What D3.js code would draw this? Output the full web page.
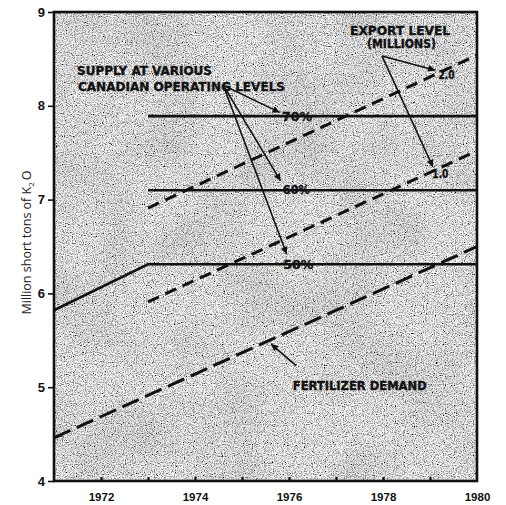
<!DOCTYPE html>
<html>
<head>
<meta charset="utf-8">
<script src="https://cdn.jsdelivr.net/npm/d3@7/dist/d3.min.js"></script>
<style>
  html, body { margin: 0; padding: 0; background: #fff; }
  svg { display: block; }
  .ann { font-family: "Liberation Sans Narrow", "DejaVu Sans Condensed", "Liberation Sans", sans-serif; font-weight: bold; fill: #111; stroke: #111; stroke-width: 0.35; }
  .tick text { font-family: "Liberation Sans", "DejaVu Sans", sans-serif; font-weight: bold; fill: #111; }
</style>
</head>
<body>
<script>
// ---------- data ----------
const xTicks = [1972, 1974, 1976, 1978, 1980];
const xMinorTicks = [1972, 1973, 1974, 1975, 1976, 1977, 1978, 1979];
const yTicks = [4, 5, 6, 7, 8, 9];

const supply50Years = [1971, 1973, 1980];
const supply50Values = [5.82, 6.31, 6.31];
const supply60Years = [1973, 1980];
const supply60Values = [7.10, 7.10];
const supply70Years = [1973, 1980];
const supply70Values = [7.89, 7.89];
const demandYears = [1971, 1980];
const demandValues = [4.46, 6.50];
const export1Years = [1973, 1980];
const export1Values = [5.91, 7.52];
const export2Years = [1973, 1980];
const export2Values = [6.91, 8.54];

// ---------- layout ----------
const W = 506, H = 505;
const m = { left: 54, right: 29, top: 12, bottom: 24 };

const x = d3.scaleLinear().domain([1971, 1980]).range([m.left, W - m.right]);
const y = d3.scaleLinear().domain([4, 9]).range([H - m.bottom, m.top]);

const svg = d3.select("body").append("svg").attr("width", W).attr("height", H);
const defs = svg.append("defs");

// grainy print texture
const f = defs.append("filter").attr("id", "grain")
  .attr("x", 0).attr("y", 0).attr("width", "100%").attr("height", "100%");
f.append("feTurbulence").attr("type", "fractalNoise").attr("baseFrequency", 0.9)
  .attr("numOctaves", 2).attr("seed", 11).attr("result", "n");
f.append("feColorMatrix").attr("type", "matrix")
  .attr("values", "2.2 0 0 0 -0.4  2.2 0 0 0 -0.4  2.2 0 0 0 -0.4  0 0 0 0 1");

const f2 = defs.append("filter").attr("id", "blotch")
  .attr("x", 0).attr("y", 0).attr("width", "100%").attr("height", "100%");
f2.append("feTurbulence").attr("type", "fractalNoise").attr("baseFrequency", 0.015)
  .attr("numOctaves", 2).attr("seed", 4);
f2.append("feColorMatrix").attr("type", "matrix")
  .attr("values", "0 0 0 0 0  0 0 0 0 0  0 0 0 0 0  -1.2 0 0 0 0.75");

const pw = x(1980) - x(1971), ph = y(4) - y(9);
svg.append("rect").attr("x", x(1971)).attr("y", y(9)).attr("width", pw).attr("height", ph)
  .attr("fill", "#aaaaaa");
svg.append("rect").attr("x", x(1971)).attr("y", y(9)).attr("width", pw).attr("height", ph)
  .attr("filter", "url(#grain)");
svg.append("rect").attr("x", x(1971)).attr("y", y(9)).attr("width", pw).attr("height", ph)
  .attr("filter", "url(#blotch)").attr("opacity", 0.15);

// arrow marker
defs.append("marker").attr("id", "arr").attr("viewBox", "0 0 10 10")
  .attr("refX", 10).attr("refY", 5).attr("markerWidth", 10).attr("markerHeight", 7)
  .attr("markerUnits", "userSpaceOnUse").attr("orient", "auto")
  .append("path").attr("d", "M0,0 L10,5 L0,10 Z").attr("fill", "#111");

// ---------- lines ----------
const line = d3.line().x(d => x(d[0])).y(d => y(d[1]));
const zip = (a, b) => a.map((v, i) => [v, b[i]]);

const series = [
  { pts: zip(supply50Years, supply50Values), dash: null, w: 2.6 },
  { pts: zip(supply60Years, supply60Values), dash: null, w: 2.6 },
  { pts: zip(supply70Years, supply70Values), dash: null, w: 2.6 },
  { pts: zip(demandYears, demandValues), dash: "18,7", w: 3 },
  { pts: zip(export1Years, export1Values), dash: "12,7", w: 3 },
  { pts: zip(export2Years, export2Values), dash: "12,7", w: 3 }
];
svg.append("g").selectAll("path").data(series).join("path")
  .attr("d", d => line(d.pts)).attr("fill", "none").attr("stroke", "#111")
  .attr("stroke-width", d => d.w).attr("stroke-dasharray", d => d.dash);

// ---------- annotations (anchored in data units) ----------
const arrows = [
  [[1974.6, 8.22], [1975.80, 7.93]],
  [[1974.6, 8.22], [1975.82, 7.20]],
  [[1974.6, 8.22], [1975.95, 6.42]],
  [[1977.98, 8.53], [1979.11, 8.38]],
  [[1977.98, 8.53], [1979.06, 7.35]],
  [[1976.15, 5.23], [1975.62, 5.46]]
];
svg.append("g").selectAll("line").data(arrows).join("line")
  .attr("x1", d => x(d[0][0])).attr("y1", d => y(d[0][1]))
  .attr("x2", d => x(d[1][0])).attr("y2", d => y(d[1][1]))
  .attr("stroke", "#111").attr("stroke-width", 1.6).attr("marker-end", "url(#arr)");

const labels = [
  { t: "SUPPLY AT VARIOUS", at: [1971.49, 8.33], len: 135, fs: 13 },
  { t: "CANADIAN OPERATING LEVELS", at: [1971.51, 8.16], len: 207, fs: 13 },
  { t: "EXPORT LEVEL", at: [1977.30, 8.76], len: 100, fs: 13 },
  { t: "(MILLIONS)", at: [1977.66, 8.62], len: 69, fs: 12 },
  { t: "FERTILIZER DEMAND", at: [1976.08, 4.97], len: 134, fs: 13 },
  { t: "70%", at: [1975.85, 7.84], len: 30, fs: 12 },
  { t: "60%", at: [1975.87, 7.06], len: 27, fs: 12 },
  { t: "50%", at: [1975.88, 6.26], len: 30, fs: 12 },
  { t: "2.0", at: [1979.18, 8.29], len: 16, fs: 12 },
  { t: "1.0", at: [1979.05, 7.23], len: 16, fs: 12 }
];
svg.append("g").selectAll("text").data(labels).join("text").attr("class", "ann")
  .attr("x", d => x(d.at[0])).attr("y", d => y(d.at[1]))
  .attr("font-size", d => d.fs)
  .attr("textLength", d => d.len).attr("lengthAdjust", "spacingAndGlyphs")
  .text(d => d.t);

// ---------- axes ----------
const xAxis = svg.append("g").attr("transform", `translate(0,${y(4)})`)
  .call(d3.axisBottom(x).tickValues(xTicks).tickFormat(d3.format("d")).tickSize(0).tickPadding(12));
xAxis.select(".domain").remove();
xAxis.selectAll("text").attr("font-size", 11.5);

svg.append("g").attr("transform", `translate(0,${y(4)})`)
  .call(d3.axisBottom(x).tickValues(xMinorTicks).tickSize(-4).tickFormat(""))
  .call(g => g.select(".domain").remove())
  .selectAll("line").attr("stroke", "#111").attr("stroke-width", 2.2);

const yAxis = svg.append("g").attr("transform", `translate(${x(1971)},0)`)
  .call(d3.axisLeft(y).tickValues(yTicks).tickFormat(d3.format("d")).tickSize(6).tickPadding(3));
yAxis.select(".domain").remove();
yAxis.selectAll("line").attr("stroke", "#111").attr("stroke-width", 1.6);
yAxis.selectAll("text").attr("font-size", 13);

// frame
svg.append("rect").attr("x", x(1971)).attr("y", y(9)).attr("width", pw).attr("height", ph)
  .attr("fill", "none").attr("stroke", "#111").attr("stroke-width", 2.6);

// y label
const yl = svg.append("text").attr("transform", `translate(31,${y(6.5) - 4}) rotate(-90)`)
  .attr("text-anchor", "middle")
  .attr("font-family", "'Open Sans', 'Liberation Sans', sans-serif").attr("font-size", 12.5)
  .attr("fill", "#222");
yl.append("tspan").text("Million short tons of K");
yl.append("tspan").attr("font-size", 8).attr("dy", 3).text("2");
yl.append("tspan").attr("dy", -3).attr("dx", 2).text("O");
</script>
</body>
</html>
